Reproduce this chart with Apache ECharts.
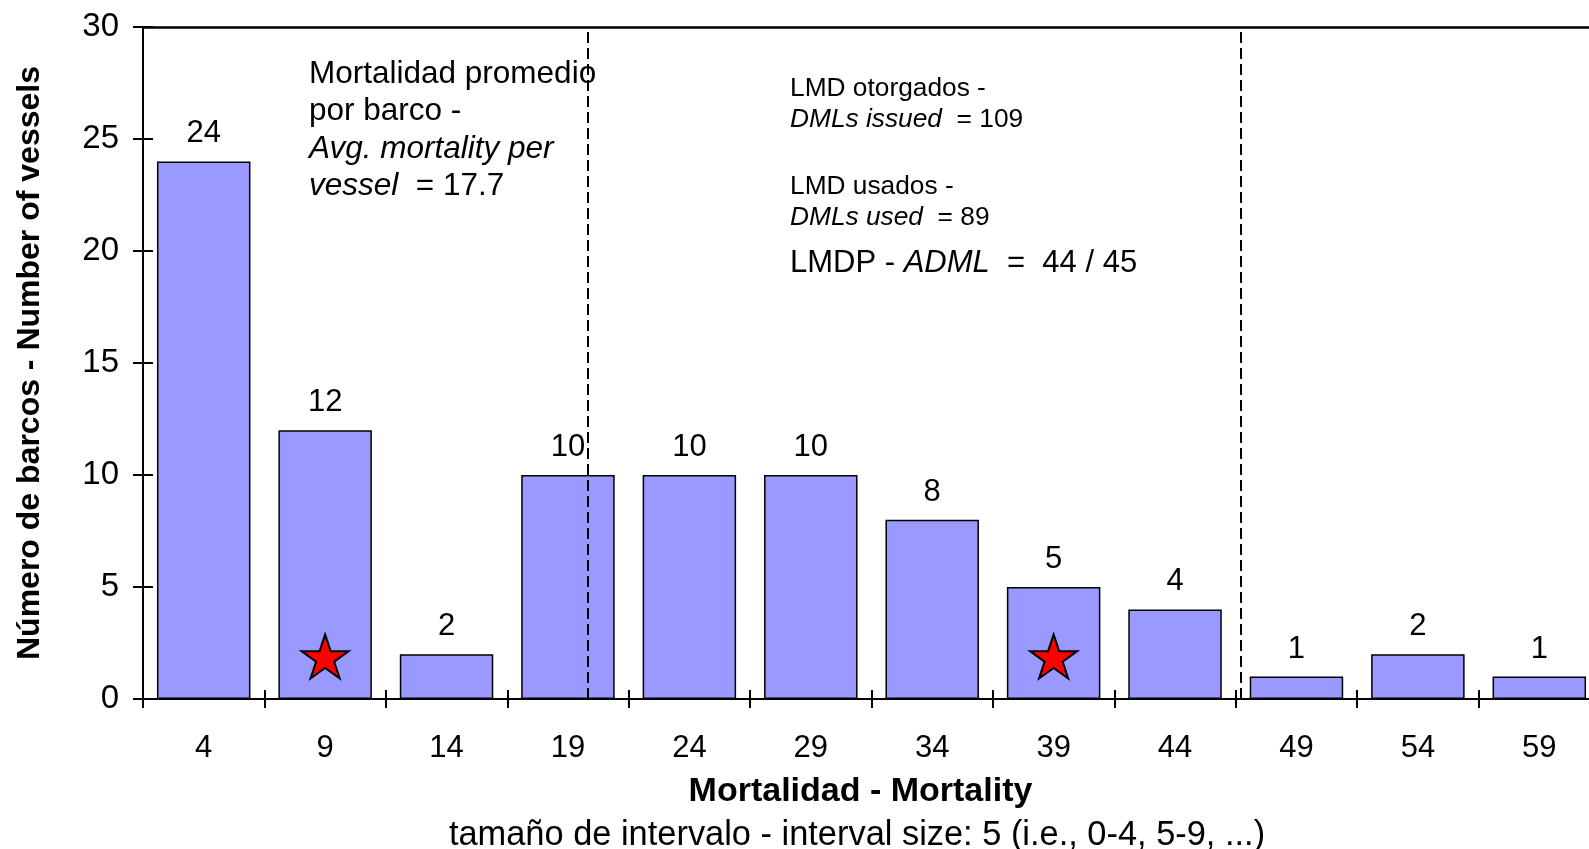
<!DOCTYPE html>
<html><head><meta charset="utf-8">
<script src="https://cdn.jsdelivr.net/npm/echarts@6/dist/echarts.min.js"></script>
<style>html,body{margin:0;padding:0;background:#fff;overflow:hidden;width:1589px;height:849px}#c{width:1600px;height:849px}</style>
</head><body><div id="c"></div>
<script>
// ---- data ----
const categories = ['4','9','14','19','24','29','34','39','44','49','54','59'];
const vesselCounts = [24,12,2,10,10,10,8,5,4,1,2,1];
const starCategories = ['9','39'];
const starValues = [1.9,1.9];
const dividerMortality = [18.3, 45.2];
const mortalityRange = [0, 60];
const yRange = [0, 30];
const yInterval = 5;

const FONT = "'Liberation Sans', Arial, Helvetica, sans-serif";
const starPath = 'path://M50,0 L61.8,35.4 L100,35.4 L69.1,57.3 L80.9,92.7 L50,70.8 L19.1,92.7 L30.9,57.3 L0,35.4 L38.2,35.4 Z';

const chart = echarts.init(document.getElementById('c'), null, {renderer:'canvas'});
const tickStyle = {color:'#000', width:2};
chart.setOption({
  animation:false,
  backgroundColor:'#fff',
  textStyle:{fontFamily:FONT},
  grid:{left:143, top:27, right:0, bottom:150, containLabel:false},
  xAxis:[
    {type:'category', data:categories, position:'bottom',
     axisLine:{show:true, lineStyle:{color:'#000', width:2}},
     axisTick:{show:true, inside:false, length:9, lineStyle:tickStyle},
     axisLabel:{show:true, color:'#000', fontSize:31, fontFamily:FONT, margin:34},
     name:'Mortalidad - Mortality', nameLocation:'middle', nameGap:76,
     nameTextStyle:{color:'#000', fontSize:34, fontWeight:'bold', fontFamily:FONT, padding:[0,22,0,0]},
     splitLine:{show:false}},
    {type:'category', data:categories, position:'bottom',
     axisLine:{show:false}, axisLabel:{show:false},
     axisTick:{show:true, inside:true, length:9, lineStyle:tickStyle}, splitLine:{show:false}},
    {type:'value', min:mortalityRange[0], max:mortalityRange[1], position:'top',
     axisLine:{show:true, onZero:false, lineStyle:{color:'#000', width:2.5}},
     axisTick:{show:false}, axisLabel:{show:false}, splitLine:{show:false}}
  ],
  yAxis:[
    {type:'value', min:yRange[0], max:yRange[1], interval:yInterval, position:'left',
     axisLine:{show:true, lineStyle:{color:'#000', width:2}},
     axisTick:{show:true, inside:false, length:10, lineStyle:tickStyle},
     axisLabel:{color:'#000', fontSize:33, fontFamily:FONT, margin:24},
     splitLine:{show:false},
     name:'Número de barcos - Number of vessels', nameLocation:'middle', nameGap:97,
     nameTextStyle:{color:'#000', fontSize:32, fontWeight:'bold', fontFamily:FONT}},
    {type:'value', min:yRange[0], max:yRange[1], interval:yInterval, position:'left',
     axisLine:{show:false}, axisLabel:{show:false}, splitLine:{show:false},
     axisTick:{show:true, inside:true, length:10, lineStyle:tickStyle}}
  ],
  series:[
    {type:'bar', xAxisIndex:0, yAxisIndex:0, data:vesselCounts, barWidth:'77%',
     itemStyle:{color:'#9999FF', borderColor:'#000', borderWidth:1.5},
     label:{show:true, position:'top', distance:12, color:'#000', fontSize:31, fontFamily:FONT},
     z:2},
    {type:'scatter', xAxisIndex:0, yAxisIndex:0,
     data:starCategories.map((c,i)=>[c, starValues[i]]),
     symbol:starPath, symbolSize:[47,44],
     itemStyle:{color:'#FF0000', borderColor:'#000', borderWidth:2, opacity:1}, z:5},
    {type:'line', xAxisIndex:2, yAxisIndex:0, data:[], z:6,
     markLine:{symbol:'none', silent:true, label:{show:false},
       lineStyle:{type:[11,5], color:'#000', width:2},
       data:dividerMortality.map(v=>({xAxis:v}))}}
  ],
  graphic:[
    {type:'text', left:309, top:58, z:10, style:{
      text:'{n|Mortalidad promedio}\n{n|por barco -}\n{i|Avg. mortality per}\n{i|vessel}{n|  = 17.7}',
      rich:{n:{fontSize:31.5, lineHeight:37.5, fontFamily:FONT, fill:'#000'},
            i:{fontSize:31.5, lineHeight:37.5, fontFamily:FONT, fontStyle:'italic', fill:'#000'}},
      fill:'#000'}},
    {type:'text', left:790, top:75.5, z:10, style:{
      text:'{n|LMD otorgados -}\n{i|DMLs issued}{n|  = 109}',
      rich:{n:{fontSize:26.3, lineHeight:31.5, fontFamily:FONT, fill:'#000'},
            i:{fontSize:26.3, lineHeight:31.5, fontFamily:FONT, fontStyle:'italic', fill:'#000'}}}},
    {type:'text', left:790, top:174, z:10, style:{
      text:'{n|LMD usados -}\n{i|DMLs used}{n|  = 89}',
      rich:{n:{fontSize:26.3, lineHeight:30.5, fontFamily:FONT, fill:'#000'},
            i:{fontSize:26.3, lineHeight:30.5, fontFamily:FONT, fontStyle:'italic', fill:'#000'}}}},
    {type:'text', left:790, top:248, z:10, style:{
      text:'{n|LMDP - }{i|ADML}{n|  =  44 / 45}',
      rich:{n:{fontSize:31, lineHeight:38, fontFamily:FONT, fill:'#000'},
            i:{fontSize:31, lineHeight:38, fontFamily:FONT, fontStyle:'italic', fill:'#000'}}}},
    {type:'text', x:857, y:836, z:10, style:{
      text:'tamaño de intervalo - interval size: 5 (i.e., 0-4, 5-9, ...)',
      font:'34.4px ' + FONT, fill:'#000', align:'center', verticalAlign:'middle'}}
  ]
});
</script></body></html>
